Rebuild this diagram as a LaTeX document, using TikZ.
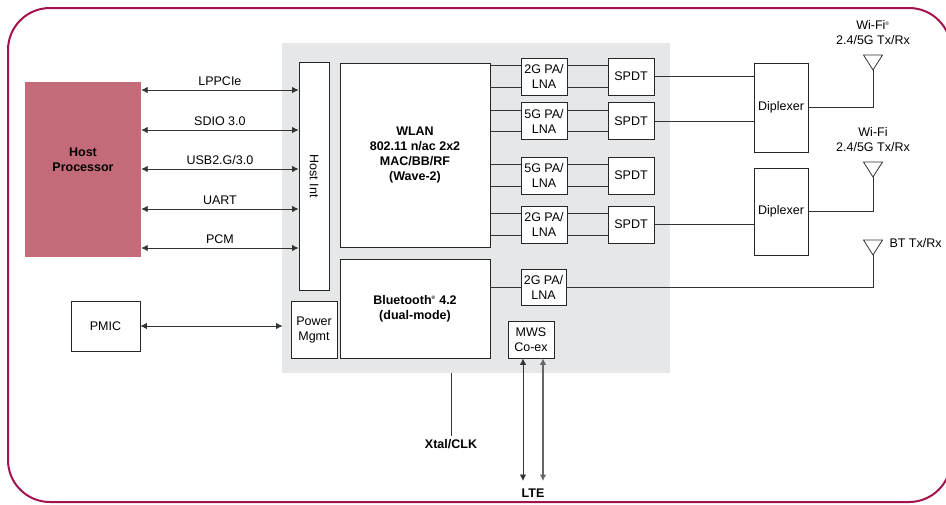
\documentclass[tikz,border=0pt]{standalone}
\usepackage{fontspec}
\setmainfont{Liberation Sans}
\usetikzlibrary{arrows.meta}
\definecolor{framered}{HTML}{A3124E}
\definecolor{hostred}{HTML}{C46B7A}
\definecolor{chipgray}{HTML}{E6E7E9}

\begin{document}
\begin{tikzpicture}[x=1pt,y=-1pt,
  font=\fontsize{12.5}{15}\selectfont,
  boldtxt/.style={font=\fontsize{12.5}{15}\selectfont\bfseries},
  blk/.style={draw=black!85,fill=white,line width=0.8pt,inner sep=1pt,align=center},
  wire/.style={draw=black!80,line width=0.9pt},
  dbl/.style={wire,{Latex[length=6.5pt,width=6.5pt]}-{Latex[length=6.5pt,width=6.5pt]}}]

\path[use as bounding box,clip] (0,0) rectangle (946,504);
\draw[framered,line width=2pt,rounded corners=42pt] (8,8) rectangle (951,502);

\node[fill=chipgray,minimum width=388,minimum height=330,inner sep=0pt] (chip) at (476,208) {};

\node[fill=hostred,minimum width=116,minimum height=175,inner sep=0pt] (host) at (83,169.5) {};
\node[boldtxt,align=center] (hosttxt) at ([yshift=10pt]host.center) {Host\\Processor};

\node[blk,minimum width=30,minimum height=228] (hostint) at (314,176) {};
\node[rotate=-90] (hostinttxt) at (hostint.center) {Host Int};
\node[blk,minimum width=46,minimum height=57] (pm) at (314,329.5) {Power\\Mgmt};
\node[blk,minimum width=69,minimum height=50] (pmic) at (105.5,326) {PMIC};

\node[blk,boldtxt,minimum width=150,minimum height=184] (wlan) at (415,155) {WLAN\\802.11 n/ac 2x2\\MAC/BB/RF\\(Wave-2)};
\node[blk,boldtxt,minimum width=150,minimum height=99] (bt) at (415,308.5) {Bluetooth\textsuperscript{\tiny ®} 4.2\\(dual-mode)};

\foreach \i/\y/\g in {1/76.5/2G,2/121/5G,3/175.5/5G,4/224.5/2G} {
  \node[blk,minimum width=46,minimum height=37] (pa\i) at (544,\y) {\g{} PA/\\LNA};
  \node[blk,minimum width=46,minimum height=37] (spdt\i) at (631,\y) {SPDT};
}
\node[blk,minimum width=45,minimum height=36] (pabt) at (543.5,287) {2G PA/\\LNA};
\node[blk,minimum width=46,minimum height=37] (mws) at (531,339.5) {MWS\\Co-ex};

\node[blk,minimum width=54,minimum height=89] (dip1) at (781,107.5) {Diplexer};
\node[blk,minimum width=54,minimum height=87] (dip2) at (781,211.5) {Diplexer};

\coordinate (ant1) at (873,70);
\coordinate (ant2) at (873,177);
\coordinate (ant3) at (873,255);
\foreach \a in {ant1,ant2,ant3}
  \draw[wire,line width=0.8pt] (\a) -- ++(-9.5,-15) -- ++(19,0) -- cycle;
\node[align=center] (wifi1) at (873,33) {Wi-Fi\textsuperscript{\tiny ®}\\2.4/5G Tx/Rx};
\node[align=center] (wifi2) at (873,139.5) {Wi-Fi\\2.4/5G Tx/Rx};
\node[anchor=west] (btlbl) at (886,243) {BT Tx/Rx};

\foreach \y/\txt in {90/LPPCIe,130/SDIO 3.0,169/{USB2.G/3.0},209/UART,248/PCM}
  \draw[dbl] (host.east |- 0,\y) -- node[above=1pt] {\txt} (hostint.west |- 0,\y);
\draw[dbl,shorten >=8pt] (pmic.east) -- (pm.west |- pmic.east);

\foreach \i in {1,...,4} {
  \coordinate (t\i) at ([yshift=-8pt]pa\i.north);
  \coordinate (b\i) at ([yshift=8pt]pa\i.south);
  \draw[wire] (wlan.east |- t\i) -- (pa\i.west |- t\i) (pa\i.east |- t\i) -- (spdt\i.west |- t\i);
  \draw[wire] (wlan.east |- b\i) -- (pa\i.west |- b\i) (pa\i.east |- b\i) -- (spdt\i.west |- b\i);
}
\draw[wire] (spdt1.east) -- (dip1.west |- spdt1.east);
\draw[wire] (spdt2.east) -- (dip1.west |- spdt2.east);
\draw[wire] (spdt4.east) -- (dip2.west |- spdt4.east);
\draw[wire] (dip1.east) -| (ant1);
\draw[wire] (dip2.east) -| (ant2);
\draw[wire] (bt.east |- pabt) -- (pabt.west);
\draw[wire] (pabt.east) -| (ant3);

\node[boldtxt] (lte) at (533,493) {LTE};
\coordinate (ltea) at (523,481);
\coordinate (lteb) at (543,481);
\draw[dbl] (ltea |- mws.south) -- (ltea);
\draw[dbl,draw=black!60,line width=1.1pt] (lteb |- mws.south) -- (lteb);

\node[boldtxt] (xtal) at (451,444) {Xtal/CLK};
\draw[wire] (xtal.north |- chip.south) -- (xtal.north);
\end{tikzpicture}
\end{document}
